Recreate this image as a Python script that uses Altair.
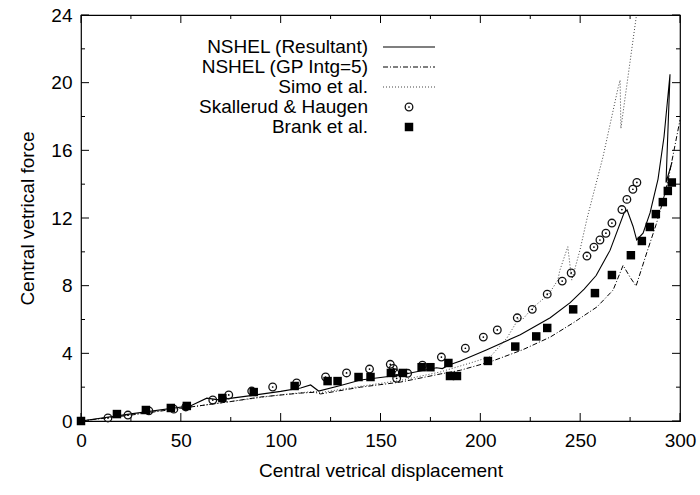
import altair as alt
import pandas as pd

# ---------------- data ----------------
res_x = [0, 25, 55, 63, 69, 85, 100, 110, 115, 119, 130, 140, 160, 178, 181, 184, 190, 203, 220, 235, 245, 252, 258, 265, 272, 273.5, 276.5, 278.3, 281.5, 285, 289, 292, 295, 293, 296]
res_y = [0, 0.42, 0.9, 1.35, 1.25, 1.5, 1.75, 1.95, 2.13, 1.77, 2.1, 2.42, 2.72, 3.15, 3.1, 3.3, 3.55, 4.2, 5.1, 6.1, 7.0, 7.8, 8.6, 10.1, 12.3, 12.47, 11.5, 10.7, 11.1, 12.3, 14.3, 16.8, 20.5, 14.1, 15.3]

gp_x = [0, 25, 50, 75, 90, 110, 117, 120, 140, 160, 180, 190, 205, 221, 235, 246.5, 258.5, 266.5, 271.5, 275, 278, 283.5, 288, 291, 294, 297, 300]
gp_y = [0, 0.35, 0.75, 1.15, 1.42, 1.65, 1.7, 1.6, 2.0, 2.3, 2.78, 3.0, 3.5, 4.2, 4.96, 5.8, 6.75, 7.74, 9.2, 8.5, 7.98, 10.0, 11.6, 12.8, 14.2, 16.0, 17.8]

simo_x = [0, 25, 50, 75, 100, 117, 120, 140, 160, 180, 195, 205, 213.3, 219.3, 221.3, 226.3, 234.3, 238.8, 239.8, 243.8, 245.8, 249.9, 253.5, 261.4, 269, 270, 270.4, 278.2]
simo_y = [0, 0.38, 0.75, 1.15, 1.55, 1.75, 1.68, 2.05, 2.4, 2.9, 3.43, 3.8, 4.9, 6.08, 6.03, 6.7, 7.5, 8.33, 8.9, 10.3, 8.33, 10.1, 12.0, 15.6, 19.7, 20.15, 17.3, 24.0]

sk_x = [13.5, 23.5, 34, 46.5, 52.5, 66, 74, 85.5, 96, 108, 122.5, 133, 144.5, 154.9, 156.4, 157.2, 158.1, 163.6, 171, 180.5, 192.5, 201.5, 208.5, 218.5, 226, 233.5, 241, 245.5, 253.4, 256.9, 259.9, 262.9, 265.9, 270.9, 273.4, 276.4, 278.4]
sk_y = [0.18, 0.35, 0.6, 0.7, 0.83, 1.24, 1.54, 1.77, 2.01, 2.25, 2.6, 2.84, 3.07, 3.35, 3.11, 2.85, 2.52, 2.82, 3.3, 3.78, 4.3, 4.96, 5.38, 6.1, 6.6, 7.5, 8.27, 8.75, 9.75, 10.28, 10.7, 11.1, 11.7, 12.5, 13.1, 13.7, 14.1]

br_x = [0, 18, 32.5, 45, 53, 70.8, 86.5, 107, 123.5, 128.5, 139, 145, 155.2, 161.2, 170.6, 175, 184, 184.8, 188.3, 203.8, 217.5, 228, 233.5, 246.5, 257.4, 265.9, 275.4, 280.9, 284.9, 287.9, 291.4, 293.9, 295.9]
br_y = [0, 0.41, 0.65, 0.77, 0.89, 1.36, 1.71, 2.07, 2.36, 2.36, 2.6, 2.6, 2.84, 2.84, 3.18, 3.18, 3.43, 2.66, 2.66, 3.55, 4.4, 5.0, 5.5, 6.6, 7.56, 8.63, 9.8, 10.64, 11.47, 12.23, 12.94, 13.6, 14.1]

x_major = [0, 50, 100, 150, 200, 250, 300]
x_minor = [25, 75, 125, 175, 225, 275]
y_major = [0, 4, 8, 12, 16, 20, 24]
y_minor = [2, 6, 10, 14, 18, 22]

legend_labels = ["NSHEL (Resultant)", "NSHEL (GP Intg=5)", "Simo et al.", "Skallerud & Haugen", "Brank et al."]

# ---------------- layout ----------------
W, H = 599, 406
FONT = "Liberation Sans"
FS = 19

xscale = alt.Scale(domain=[0, 300], nice=False, zero=False)
yscale = alt.Scale(domain=[0, 24], nice=False, zero=False)
xaxis = alt.Axis(values=x_major, ticks=False, domain=False, grid=False, labelFont=FONT, labelFontSize=FS,
                 labelColor="black", labelPadding=10, title="Central vetrical displacement",
                 titleFont=FONT, titleFontSize=FS, titleFontWeight="normal", titleColor="black",
                 titlePadding=11, labelFlush=False)
yaxis = alt.Axis(values=y_major, ticks=False, domain=False, grid=False, labelFont=FONT, labelFontSize=FS,
                 labelColor="black", labelPadding=9, title="Central vetrical force",
                 titleFont=FONT, titleFontSize=FS, titleFontWeight="normal", titleColor="black",
                 titlePadding=13, labelFlush=False)


def X():
    return alt.X("x:Q", scale=xscale, axis=xaxis)


def Y():
    return alt.Y("y:Q", scale=yscale, axis=yaxis)


def sdf(xs, ys):
    return pd.DataFrame({"x": xs, "y": ys, "o": list(range(len(xs)))})


res = alt.Chart(sdf(res_x, res_y)).mark_line(color="black", strokeWidth=1.1).encode(
    x=X(), y=Y(), order="o:Q")
gp = alt.Chart(sdf(gp_x, gp_y)).mark_line(color="black", strokeWidth=1.0, strokeDash=[5, 2, 1, 2]).encode(
    x=X(), y=Y(), order="o:Q")
simo = alt.Chart(sdf(simo_x, simo_y)).mark_line(color="#444", strokeWidth=1.0, strokeDash=[1, 2], clip=True).encode(
    x=X(), y=Y(), order="o:Q")

sk_df = pd.DataFrame({"x": sk_x, "y": sk_y})
sk = alt.Chart(sk_df).mark_point(shape="circle", filled=False, color="#111", size=58, strokeWidth=1.3, opacity=1).encode(x=X(), y=Y())
sk_dot = alt.Chart(sk_df).mark_point(shape="circle", filled=True, color="black", size=3, opacity=1).encode(x=X(), y=Y())

br = alt.Chart(pd.DataFrame({"x": br_x, "y": br_y})).mark_point(
    shape="square", filled=True, color="black", size=72, opacity=1).encode(x=X(), y=Y())

# inward ticks on all four sides
def xticks(vals, length):
    d = pd.DataFrame({"x": vals})
    bottom = alt.Chart(d).mark_rule(color="black", strokeWidth=1).encode(
        x=X(), y=alt.value(H), y2=alt.value(H - length))
    top = alt.Chart(d).mark_rule(color="black", strokeWidth=1).encode(
        x=X(), y=alt.value(0), y2=alt.value(length))
    return [bottom, top]


def yticks(vals, length):
    d = pd.DataFrame({"y": vals})
    left = alt.Chart(d).mark_rule(color="black", strokeWidth=1).encode(
        y=Y(), x=alt.value(0), x2=alt.value(length))
    right = alt.Chart(d).mark_rule(color="black", strokeWidth=1).encode(
        y=Y(), x=alt.value(W), x2=alt.value(W - length))
    return [left, right]


ticks = xticks(x_major, 8) + xticks(x_minor, 4) + yticks(y_major, 8) + yticks(y_minor, 4)

# manual legend (text right-aligned, sample on the right)
row_y = [32, 52, 72, 92, 112]
leg_text = []
for lab, ry in zip(legend_labels, row_y):
    leg_text.append(alt.Chart(pd.DataFrame({"label": [lab]})).mark_text(
        align="right", baseline="middle", font=FONT, fontSize=FS, color="black").encode(
        text="label:N", x=alt.value(287), y=alt.value(ry)))

leg_res = alt.Chart(pd.DataFrame({"k": [0]})).mark_rule(color="black", strokeWidth=1.1).encode(
    x=alt.value(302), x2=alt.value(354), y=alt.value(row_y[0]))
leg_gp = alt.Chart(pd.DataFrame({"k": [0]})).mark_rule(color="black", strokeWidth=1.0, strokeDash=[5, 2, 1, 2]).encode(
    x=alt.value(302), x2=alt.value(354), y=alt.value(row_y[1]))
leg_simo = alt.Chart(pd.DataFrame({"k": [0]})).mark_rule(color="#444", strokeWidth=1.0, strokeDash=[1, 2]).encode(
    x=alt.value(302), x2=alt.value(354), y=alt.value(row_y[2]))
leg_sk = alt.Chart(pd.DataFrame({"k": [0]})).mark_point(shape="circle", filled=False, color="#111", size=58, strokeWidth=1.3, opacity=1).encode(
    x=alt.value(328), y=alt.value(row_y[3]))
leg_sk_dot = alt.Chart(pd.DataFrame({"k": [0]})).mark_point(shape="circle", filled=True, color="black", size=3, opacity=1).encode(
    x=alt.value(328), y=alt.value(row_y[3]))
leg_br = alt.Chart(pd.DataFrame({"k": [0]})).mark_point(shape="square", filled=True, color="black", size=72, opacity=1).encode(
    x=alt.value(328), y=alt.value(row_y[4]))

chart = alt.layer(
    *ticks, simo, gp, res, sk, sk_dot, br,
    *leg_text, leg_res, leg_gp, leg_simo, leg_sk, leg_sk_dot, leg_br
).properties(
    width=W, height=H,
    autosize=alt.AutoSizeParams(type="none"),
    padding={"left": 81, "top": 15, "right": 20, "bottom": 74},
    background="white",
).configure_view(stroke="black", strokeWidth=1.2)

chart.save("out.html", embed_options={"renderer": "svg", "actions": False})
